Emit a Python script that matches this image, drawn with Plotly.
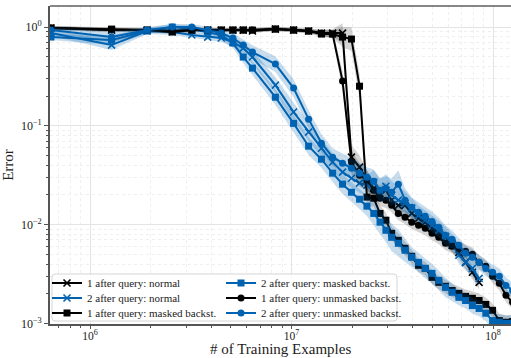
import plotly.graph_objects as go

# Training-example checkpoints (millions)
steps_m = [0.64, 1.28, 1.92, 2.56, 3.2, 3.84, 4.48, 5.12, 5.76, 6.4,
           8.32, 10.24, 12.16, 14.08, 16.0, 17.92, 19.84, 21.76, 23.68, 25.6,
           27.5, 29.4, 31.4, 33.9, 36.6, 39.5, 42.7, 46.1, 49.8, 53.8,
           58.1, 62.7, 67.7, 73.1, 79.0, 85.3, 92.1, 99.5, 107.5, 116.0, 125.0]

# Mean error per checkpoint
err_1_normal = [0.977, 0.932, 0.932, 0.911, 0.932, 0.932, 0.932, 0.932, 0.932, 0.911,
                0.954, 0.932, 0.911, 0.869, 0.869, 0.869, 0.0482, 0.0382, 0.0282, 0.0234,
                0.0208, 0.0223, 0.0177, 0.0157, 0.0157, 0.0130, 0.0116, 0.0106, 0.00919, 0.00837,
                0.00745, 0.00618, 0.00525, 0.00416, 0.00330, 0.00261]
err_2_normal = [0.869, 0.657, 0.911, 0.890, 0.830, 0.792, 0.774, 0.705, 0.612, 0.497,
                0.258, 0.138, 0.0863, 0.0594, 0.0429, 0.0340, 0.0295, 0.0263, 0.0251, 0.0269,
                0.0223, 0.0245, 0.0199, 0.0177, 0.0165, 0.0147, 0.0124, 0.0111, 0.00986, 0.00877,
                0.00762, 0.00648, 0.00490, 0.00416, 0.00361, 0.00286]
err_1_masked = [0.977, 0.954, 0.932, 0.890, 0.932, 0.932, 0.932, 0.932, 0.932, 0.932,
                0.954, 0.932, 0.911, 0.849, 0.849, 0.792, 0.756, 0.252, 0.0190, 0.0185,
                0.0130, 0.0111, 0.00818, 0.00695, 0.00577, 0.00479, 0.00388, 0.00361, 0.00293, 0.00261,
                0.00238, 0.00216, 0.00202, 0.00188, 0.00180, 0.00171, 0.00156, 0.00136, 0.00107, 0.00103,
                0.00105]
err_2_masked = [0.792, 0.738, 0.911, 1.0, 0.954, 0.890, 0.830, 0.689, 0.497, 0.384,
                0.195, 0.106, 0.0623, 0.0460, 0.0332, 0.0257, 0.0213, 0.0181, 0.0154, 0.0130,
                0.0106, 0.00877, 0.00745, 0.00648, 0.00551, 0.00468, 0.00416, 0.00361, 0.00322, 0.00273,
                0.00232, 0.00207, 0.00184, 0.00171, 0.00152, 0.00142, 0.00127, 0.00107, 0.00103, 0.00100,
                0.00100]
err_1_unmasked = [0.977, 0.932, 0.932, 0.911, 0.932, 0.932, 0.932, 0.932, 0.932, 0.932,
                  0.954, 0.932, 0.911, 0.869, 0.849, 0.284, 0.0429, 0.0317, 0.0282, 0.0223,
                  0.0185, 0.0177, 0.0157, 0.0130, 0.0119, 0.0106, 0.00986, 0.00919, 0.00818, 0.00745,
                  0.00648, 0.00604, 0.00577, 0.00537, 0.00501, 0.00416, 0.00379, 0.00300, 0.00255, 0.00193,
                  0.00164]
err_2_unmasked = [0.932, 0.792, 0.932, 1.0, 1.0, 0.932, 0.869, 0.774, 0.657, 0.558,
                  0.422, 0.241, 0.117, 0.0668, 0.0482, 0.0419, 0.0373, 0.0332, 0.0302, 0.0275,
                  0.0223, 0.0234, 0.0213, 0.0257, 0.0177, 0.0150, 0.0134, 0.0122, 0.0108, 0.00941,
                  0.00780, 0.00711, 0.00618, 0.00513, 0.00468, 0.00416, 0.00361, 0.00330, 0.00300, 0.00243,
                  0.00216]

# Half-width of the shaded spread (log10 units) per checkpoint
spread_blue = [0.03, 0.05, 0.03, 0.03, 0.03, 0.03, 0.04, 0.05, 0.06, 0.07,
               0.08, 0.09, 0.09, 0.09, 0.09, 0.10, 0.10, 0.10, 0.10, 0.12,
               0.12, 0.12, 0.14, 0.14, 0.12, 0.10, 0.10, 0.10, 0.10, 0.10,
               0.10, 0.09, 0.08, 0.08, 0.08, 0.08, 0.08, 0.08, 0.08, 0.08, 0.08]
spread_black = [0.02, 0.02, 0.02, 0.02, 0.02, 0.02, 0.02, 0.02, 0.02, 0.02,
                0.02, 0.02, 0.02, 0.03, 0.04, 0.10, 0.12, 0.12, 0.10, 0.08,
                0.08, 0.08, 0.07, 0.07, 0.07, 0.07, 0.07, 0.07, 0.07, 0.07,
                0.07, 0.07, 0.07, 0.07, 0.07, 0.07, 0.07, 0.07, 0.07, 0.07, 0.07]

x_ticks = [1e6, 1e7, 1e8]
x_tick_text = ["10<sup>6</sup>", "10<sup>7</sup>", "10<sup>8</sup>"]
y_ticks = [1e-3, 1e-2, 1e-1, 1e0]
y_tick_text = ["10<sup>\u22123</sup>", "10<sup>\u22122</sup>", "10<sup>\u22121</sup>", "10<sup>0</sup>"]

BLUE = "#0063b2"
BLACK = "#000000"
FONT = "Liberation Serif"

steps = [s * 1e6 for s in steps_m]

series = [
    ("1 after query: normal", err_1_normal, BLACK, "x-thin", spread_black),
    ("2 after query: normal", err_2_normal, BLUE, "x-thin", spread_blue),
    ("1 after query: masked backst.", err_1_masked, BLACK, "square", spread_black),
    ("2 after query: masked backst.", err_2_masked, BLUE, "square", spread_blue),
    ("1 after query: unmasked backst.", err_1_unmasked, BLACK, "circle", spread_black),
    ("2 after query: unmasked backst.", err_2_unmasked, BLUE, "circle", spread_blue),
]

# legend slot: (legend id, column left px, row centre px)
legend_slots = [("legend", 47, 283), ("legend2", 47, 298), ("legend3", 47, 313),
                ("legend4", 221, 283), ("legend5", 221, 298), ("legend6", 221, 313)]

L, R, T, B = 50, 0, 6, 34
W, H = 511, 358
pw, ph = W - L - R, H - T - B

fig = go.Figure()
for (name, vals, color, sym, spread), (lg, _, _) in zip(series, legend_slots):
    n = len(vals)
    xs = steps[:n]
    upper = [v * 10 ** s for v, s in zip(vals, spread[:n])]
    lower = [v / 10 ** s for v, s in zip(vals, spread[:n])]
    fill = "rgba(0,99,178,0.22)" if color == BLUE else "rgba(0,0,0,0.17)"
    fig.add_trace(go.Scatter(x=xs + xs[::-1], y=upper + lower[::-1], fill="toself",
                             fillcolor=fill, line=dict(width=0), mode="lines",
                             hoverinfo="skip", showlegend=False))
    if sym == "x-thin":
        marker = dict(symbol=sym, size=7, line=dict(width=1.6, color=color), color=color)
    else:
        marker = dict(symbol=sym, size=7, color=color, line=dict(width=0))
    fig.add_trace(go.Scatter(x=xs, y=vals, mode="lines+markers", name=name,
                             line=dict(color=color, width=2), marker=marker, legend=lg))

legend_layout = {}
for lg, px, py in legend_slots:
    legend_layout[lg] = dict(
        x=(px - L) / pw, y=(H - B - py) / ph, xanchor="left", yanchor="middle",
        bgcolor="rgba(0,0,0,0)", borderwidth=0, itemwidth=30,
        font=dict(family=FONT, size=11, color="#222"))

minor_x = [m * 10 ** e for e in range(5, 9) for m in range(2, 10)]
minor_y = [m * 10 ** e for e in range(-3, 1) for m in range(2, 10)]

# rounded legend frame in paper coordinates
bx0, bx1 = (52 - L) / pw, (397 - L) / pw
by0, by1 = (H - B - 321) / ph, (H - B - 274) / ph
rx, ry = 3 / pw, 3 / ph
frame = (f"M {bx0 + rx},{by0} L {bx1 - rx},{by0} Q {bx1},{by0} {bx1},{by0 + ry} "
         f"L {bx1},{by1 - ry} Q {bx1},{by1} {bx1 - rx},{by1} "
         f"L {bx0 + rx},{by1} Q {bx0},{by1} {bx0},{by1 - ry} "
         f"L {bx0},{by0 + ry} Q {bx0},{by0} {bx0 + rx},{by0} Z")

fig.update_layout(
    width=W, height=H, margin=dict(l=L, r=R, t=T, b=B, autoexpand=False),
    paper_bgcolor="white", plot_bgcolor="white",
    font=dict(family=FONT, size=12, color="#222"),
    shapes=[
        dict(type="path", path=frame, xref="paper", yref="paper",
             fillcolor="rgba(255,255,255,0.85)", line=dict(color="#d5d5d5", width=1), layer="above"),
        dict(type="line", xref="paper", yref="paper", x0=0, x1=1, y0=1, y1=1,
             line=dict(color="#111", width=1.2), layer="above"),
    ],
    annotations=[
        dict(text="# of Training Examples", xref="paper", yref="paper",
             x=0.5, y=(H - B - 349) / ph, xanchor="center", yanchor="middle", borderpad=0,
             showarrow=False, font=dict(family=FONT, size=15, color="#222")),
    ],
    **legend_layout,
)

minor_style = dict(ticks="outside", ticklen=2, tickcolor="#555",
                   showgrid=True, gridcolor="#efefef", griddash="3px,3px", gridwidth=1)

fig.update_xaxes(
    type="log", range=[5.8015, 8.0893], automargin=False,
    tickvals=x_ticks, ticktext=x_tick_text, tickfont=dict(family=FONT, size=11.5, color="#222"),
    ticks="outside", ticklen=3, tickcolor="#555", tickwidth=1, ticklabelstandoff=-3,
    showline=True, linecolor="#555", linewidth=1.6,
    showgrid=True, gridcolor="#e4e4e4", gridwidth=1,
    minor=dict(tickvals=minor_x, **minor_style),
    zeroline=False,
)
fig.update_yaxes(
    type="log", range=[-3.005, 0.213], automargin=False,
    tickvals=y_ticks, ticktext=y_tick_text, tickfont=dict(family=FONT, size=12, color="#222"),
    ticks="outside", ticklen=4, tickcolor="#555", tickwidth=1,
    showline=True, linecolor="#555", linewidth=1.6,
    showgrid=True, gridcolor="#e4e4e4", gridwidth=1,
    minor=dict(tickvals=minor_y, **minor_style),
    title=dict(text="Error", font=dict(family=FONT, size=15, color="#222"), standoff=8),
    zeroline=False,
)

fig.write_html("out.html")
